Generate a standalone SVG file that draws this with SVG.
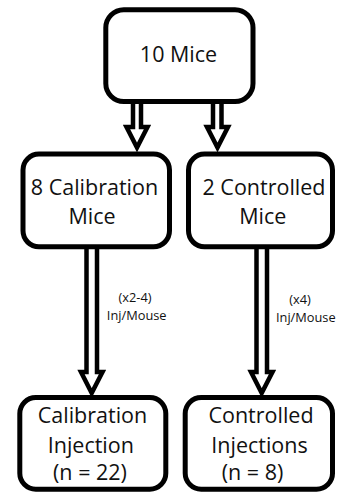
<svg xmlns="http://www.w3.org/2000/svg" width="339" height="493" viewBox="0 0 339 493">
<style>
.box{fill:#fff;stroke:#000;stroke-width:5}
.arr{fill:#fff;stroke:#000;stroke-width:4.5;stroke-linejoin:miter;stroke-miterlimit:10}
.t{font-family:"Open Sans","Noto Sans",sans-serif;font-size:21.5px;fill:#111;text-anchor:middle}
.l{font-family:"Open Sans","Noto Sans",sans-serif;font-size:12.8px;fill:#111;text-anchor:middle}
</style>
<rect width="339" height="493" fill="#fff"/>
<g id="connectors">
<path class="arr" d="M133,100 V127 H126.5 L137,147.5 L147.5,127 H141 V100"/>
<path class="arr" d="M213,100 V127 H207 L217.5,147.5 L228,127 H221.5 V100"/>
<path class="arr" d="M86.5,245 V372 H81 L91.7,393 L102.5,372 H97 V245"/>
<path class="arr" d="M256.5,245 V372 H251 L261.7,393 L272.5,372 H267 V245"/>
<text class="l" x="135" y="301.5">(x2-4)</text>
<text class="l" x="136.7" y="319.5">Inj/Mouse</text>
<text class="l" x="300" y="303.5">(x4)</text>
<text class="l" x="305.8" y="321.5">Inj/Mouse</text>
</g>
<g id="n-10mice">
<rect class="box" x="105.8" y="9.8" width="147.2" height="91.7" rx="18"/>
<text class="t" x="178.5" y="62">10 Mice</text>
</g>
<g id="n-calib-mice">
<rect class="box" x="23" y="154" width="146.5" height="92.8" rx="16"/>
<text class="t" x="94.5" y="195">8 Calibration</text>
<text class="t" x="92" y="224">Mice</text>
</g>
<g id="n-ctrl-mice">
<rect class="box" x="188.5" y="154" width="144" height="92.8" rx="16"/>
<text class="t" x="264" y="195">2 Controlled</text>
<text class="t" x="262.8" y="224">Mice</text>
</g>
<g id="n-calib-inj">
<rect class="box" x="19.8" y="397.5" width="146" height="91.7" rx="16"/>
<text class="t" x="92.5" y="423.3">Calibration</text>
<text class="t" x="90.8" y="452.5">Injection</text>
<text class="t" x="90" y="479.5">(n = 22)</text>
</g>
<g id="n-ctrl-inj">
<rect class="box" x="185.2" y="397.5" width="147.3" height="91.7" rx="16"/>
<text class="t" x="261" y="423.3">Controlled</text>
<text class="t" x="259.5" y="452.5">Injections</text>
<text class="t" x="252.5" y="479.5">(n = 8)</text>
</g>
</svg>
